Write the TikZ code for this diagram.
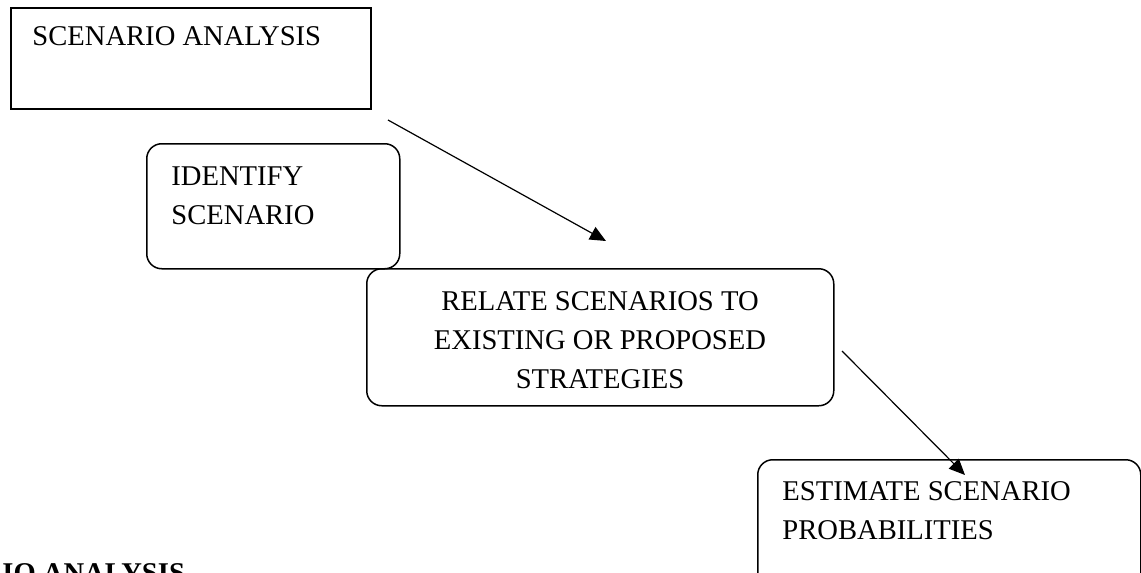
\documentclass[tikz,border=0pt]{standalone}
\usepackage{fontspec}
\setmainfont{Liberation Serif}
\usetikzlibrary{arrows.meta}
\tikzset{
  stepbox/.style={draw, line width=0.75pt, inner sep=0pt},
  roundbox/.style={stepbox, rounded corners=7.5pt},
  boxtext/.style={inner sep=0pt, font=\fontsize{14.3}{19.5}\selectfont},
  flow/.style={line width=0.6pt, -{Triangle[length=8pt,width=7pt]}}
}
\begin{document}
\begin{tikzpicture}[x=0.5pt,y=-0.5pt]
\useasboundingbox (0,0) rectangle (1141,573);
\clip (0,0) rectangle (1141,573);

\node[stepbox, anchor=north west, minimum width=180pt, minimum height=50.5pt] (analysis) at (10,7) {};
\node[boxtext, anchor=base west] (analysistxt) at (32,46) {SCENARIO ANALYSIS};

\node[roundbox, anchor=north west, minimum width=126.5pt, minimum height=62.5pt] (identify) at (146,143) {};
\node[boxtext, anchor=base west, align=left] (identifytxt) at (171,224) {IDENTIFY\\SCENARIO};

\node[roundbox, anchor=north west, minimum width=233.5pt, minimum height=68.5pt] (relate) at (366,268) {};
\node[boxtext, anchor=base, align=center] (relatetxt) at (600,388) {RELATE SCENARIOS TO\\EXISTING OR PROPOSED\\STRATEGIES};

\node[roundbox, anchor=north west, minimum width=191.5pt, minimum height=80pt] (estimate) at (757,459) {};
\node[boxtext, anchor=base west, align=left] (estimatetxt) at (782,539) {ESTIMATE SCENARIO\\PROBABILITIES};

\node[boxtext, anchor=base west, font=\fontsize{14.3}{19.5}\selectfont\bfseries] (caption) at (2,582) {IO ANALYSIS};

\coordinate (from1) at (388,120);
\coordinate (to1) at (606,241);
\coordinate (from2) at (842,351);
\coordinate (to2) at (965,475);
\draw[flow] (from1) -- (to1);
\draw[flow] (from2) -- (to2);
\end{tikzpicture}
\end{document}
